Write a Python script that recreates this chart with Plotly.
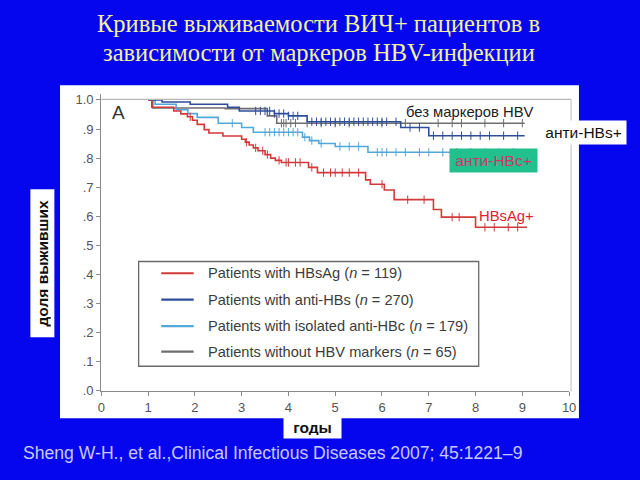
import plotly.graph_objects as go
import numpy as np

# ---------------- data ----------------
hbsag_t = [1.0, 1.08, 1.55, 1.7, 1.84, 1.95, 2.05, 2.2, 2.3, 2.6, 3.0, 3.08, 3.16, 3.25, 3.35,
           3.5, 3.62, 3.72, 3.85, 4.43, 4.62, 5.65, 5.75, 6.05, 6.26, 7.1, 7.27, 8.0, 9.1]
hbsag_s = [1.0, 0.975, 0.962, 0.952, 0.942, 0.93, 0.916, 0.898, 0.886, 0.876, 0.865, 0.855, 0.845, 0.835, 0.825,
           0.812, 0.80, 0.792, 0.785, 0.768, 0.75, 0.725, 0.71, 0.69, 0.657, 0.623, 0.597, 0.562, 0.562]
hbsag_cens = [1.9, 3.1, 3.3, 3.45, 3.55, 3.8, 3.95, 4.0, 4.15, 4.25, 4.5, 4.75, 4.9, 5.0, 5.15,
              5.3, 5.5, 6.0, 6.55, 6.9, 7.5, 7.65, 8.2, 8.4, 8.7, 8.9]

antihbs_t = [1.0, 1.3, 1.9, 2.7, 2.95, 3.7, 4.0, 4.4, 6.4, 7.0, 9.05]
antihbs_s = [1.0, 0.993, 0.985, 0.975, 0.962, 0.953, 0.945, 0.925, 0.905, 0.877, 0.877]
antihbs_cens = [3.3, 3.4, 3.5, 3.6, 3.7, 3.8, 3.9, 4.0, 4.1, 4.2, 4.5, 4.6, 4.7, 4.8, 4.9, 5.0, 5.1,
                5.2, 5.3, 5.4, 5.5, 5.6, 5.7, 5.8, 5.9, 6.0, 6.1, 6.3, 6.6, 6.8, 7.1, 7.3, 7.5,
                7.7, 7.9, 8.1, 8.3, 8.6, 8.9]

isoc_t = [1.0, 1.15, 1.6, 1.85, 2.05, 2.5, 3.0, 3.25, 4.3, 4.45, 4.65, 5.0, 5.7, 9.05]
isoc_s = [1.0, 0.985, 0.966, 0.953, 0.94, 0.92, 0.905, 0.889, 0.872, 0.86, 0.85, 0.84, 0.82, 0.82]
isoc_cens = [2.8, 3.5, 3.6, 3.7, 3.8, 3.9, 4.0, 4.1, 4.2, 4.35, 4.5, 4.7, 5.1, 5.3, 5.5, 5.9,
             6.0, 6.1, 6.3, 6.5, 6.8, 7.0, 7.3, 7.6, 7.9, 8.2, 8.5, 8.8]

nomark_t = [1.0, 1.1, 2.65, 3.55, 3.75, 9.05]
nomark_s = [1.0, 0.972, 0.97, 0.945, 0.92, 0.92]
nomark_cens = [3.85, 3.9, 3.95, 4.05, 4.15, 4.4, 4.7, 5.0, 5.3, 6.0, 6.5, 7.2, 7.5, 7.7, 8.2, 8.6, 9.0]

legend_labels = ["Patients with HBsAg (<i>n</i> = 119)",
                 "Patients with anti-HBs (<i>n</i> = 270)",
                 "Patients with isolated anti-HBc (<i>n</i> = 179)",
                 "Patients without HBV markers (<i>n</i> = 65)"]
series_colors = ["#D23A3A", "#2E4E9C", "#52A8DA", "#6E6E6E"]

y_tickvals = [0.0, 0.1, 0.2, 0.3, 0.4, 0.5, 0.6, 0.7, 0.8, 0.9, 1.0]
y_ticktext = [".0", ".1", ".2", ".3", ".4", ".5", ".6", ".7", ".8", ".9", "1.0"]
x_tickvals = [0, 1, 2, 3, 4, 5, 6, 7, 8, 9, 10]

title_lines = ["Кривые выживаемости ВИЧ+ пациентов в", "зависимости от маркеров HBV-инфекции"]
citation = "Sheng W-H., et al.,Clinical Infectious Diseases 2007; 45:1221–9"

W, H = 640, 480
BG = "#0606EE"


def px(x):
    return x / W


def py(y):
    return 1 - y / H


def step_value(t, s, c):
    idx = np.searchsorted(np.array(t), c, side="right") - 1
    return s[max(idx, 0)]


fig = go.Figure()

series = [(hbsag_t, hbsag_s, hbsag_cens), (antihbs_t, antihbs_s, antihbs_cens),
          (isoc_t, isoc_s, isoc_cens), (nomark_t, nomark_s, nomark_cens)]
# draw order: gray, light blue, dark blue, red on top
for i in [3, 2, 1, 0]:
    t, s, cens = series[i]
    fig.add_trace(go.Scatter(x=t, y=s, mode="lines", line=dict(color=series_colors[i], width=1.6, shape="hv"),
                             showlegend=False, hoverinfo="skip"))
    cy = [step_value(t, s, c) for c in cens]
    fig.add_trace(go.Scatter(x=cens, y=cy, mode="markers",
                             marker=dict(symbol="line-ns-open", size=6, color=series_colors[i],
                                         line=dict(color=series_colors[i], width=1)),
                             showlegend=False, hoverinfo="skip"))

shapes = []
# white picture area
shapes.append(dict(type="rect", xref="paper", yref="paper", x0=px(57), x1=px(585), y0=py(425), y1=py(85),
                   fillcolor="white", line=dict(width=0), layer="below"))
# frame lines of original figure (top and right)
shapes.append(dict(type="line", xref="paper", yref="paper", x0=px(99), x1=px(577), y0=py(99.5), y1=py(99.5),
                   line=dict(color="#B8B8B8", width=1.2)))
shapes.append(dict(type="line", xref="paper", yref="paper", x0=px(577), x1=px(577), y0=py(99.5), y1=py(398),
                   line=dict(color="#C8C8C8", width=1.2)))
# legend box
shapes.append(dict(type="rect", xref="paper", yref="paper", x0=px(137), x1=px(483), y0=py(372), y1=py(265),
                   line=dict(color="#6A6A6A", width=1.3), fillcolor="rgba(0,0,0,0)"))

annotations = []
rows = [277, 304, 331, 357]
for i, lab in enumerate(legend_labels):
    shapes.append(dict(type="line", xref="paper", yref="paper", x0=px(160), x1=px(193), y0=py(rows[i]),
                       y1=py(rows[i]), line=dict(color=series_colors[i], width=2.2)))
    annotations.append(dict(xref="paper", yref="paper", x=px(206), y=py(rows[i]), text=lab, showarrow=False,
                            xanchor="left", yanchor="middle",
                            font=dict(family="Liberation Sans, Arial", size=14.6, color="#3C3C3C")))

# title
for j, line in enumerate(title_lines):
    annotations.append(dict(xref="paper", yref="paper", x=0.5, y=py(22 + 30 * j), text=line, showarrow=False,
                            xanchor="center", yanchor="middle",
                            font=dict(family="Liberation Serif, Times New Roman", size=24.5, color="#F2F29A")))
# citation
annotations.append(dict(xref="paper", yref="paper", x=px(17), y=py(461), text=citation, showarrow=False,
                        xanchor="left", yanchor="middle",
                        font=dict(family="Liberation Sans, Arial", size=17.6, color="#C8C8FF")))
# "A"
annotations.append(dict(xref="paper", yref="paper", x=px(108), y=py(113), text="A", showarrow=False,
                        xanchor="left", yanchor="middle",
                        font=dict(family="Liberation Sans, Arial", size=19, color="#333333")))
# curve labels
annotations.append(dict(xref="paper", yref="paper", x=px(541), y=py(112), text="без маркеров HBV", showarrow=False,
                        xanchor="right", yanchor="middle",
                        font=dict(family="Liberation Sans, Arial", size=14.8, color="#222222")))
annotations.append(dict(xref="paper", yref="paper", x=px(589.5), y=py(133), text="анти-HBs+", showarrow=False,
                        xanchor="center", yanchor="middle", bgcolor="white", borderpad=3, width=79,
                        font=dict(family="Liberation Sans, Arial", size=15.5, color="#111111")))
annotations.append(dict(xref="paper", yref="paper", x=px(498.5), y=py(161.5), text="анти-HBc+", showarrow=False,
                        xanchor="center", yanchor="middle", bgcolor="#22C08C", borderpad=3, width=81,
                        font=dict(family="Liberation Sans, Arial", size=15.5, color="#D8306A")))
annotations.append(dict(xref="paper", yref="paper", x=px(541), y=py(219), text="HBsAg+", showarrow=False,
                        xanchor="right", yanchor="middle",
                        font=dict(family="Liberation Sans, Arial", size=14.8, color="#E02030")))
# axis titles (white boxes)
annotations.append(dict(xref="paper", yref="paper", x=px(39.5), y=py(266.5), text="<b>доля выживших</b>",
                        showarrow=False, textangle=-90, xanchor="center", yanchor="middle", bgcolor="white",
                        borderpad=3, height=17, width=141,
                        font=dict(family="Liberation Sans, Arial", size=15.5, color="#111111")))
annotations.append(dict(xref="paper", yref="paper", x=px(313.5), y=py(434), text="<b>годы</b>", showarrow=False,
                        xanchor="center", yanchor="middle", bgcolor="white", borderpad=3, width=51, height=16,
                        font=dict(family="Liberation Sans, Arial", size=15.5, color="#111111")))

y0_px, y1_px = 397.0, 100.0
yr = [0.0, 1.02]
top_px = y0_px - (y0_px - y1_px) * yr[1]

fig.update_layout(
    width=W, height=H, margin=dict(l=0, r=0, t=0, b=0),
    paper_bgcolor=BG, plot_bgcolor="rgba(0,0,0,0)",
    shapes=shapes, annotations=annotations, showlegend=False,
    xaxis=dict(domain=[px(99), px(575)], range=[0, 10], tickvals=x_tickvals, showgrid=False, zeroline=False,
               showline=True, linecolor="#8A8A8A", linewidth=1.4, ticks="outside", ticklen=4, tickcolor="#8A8A8A",
               tickfont=dict(family="Liberation Sans, Arial", size=13, color="#555555")),
    yaxis=dict(domain=[py(y0_px), py(top_px)], range=yr, tickvals=y_tickvals, ticktext=y_ticktext,
               showgrid=False, zeroline=False, showline=True, linecolor="#8A8A8A", linewidth=1.4,
               ticks="outside", ticklen=4, tickcolor="#8A8A8A",
               tickfont=dict(family="Liberation Sans, Arial", size=13, color="#555555")),
)

fig.write_html("out.html")
